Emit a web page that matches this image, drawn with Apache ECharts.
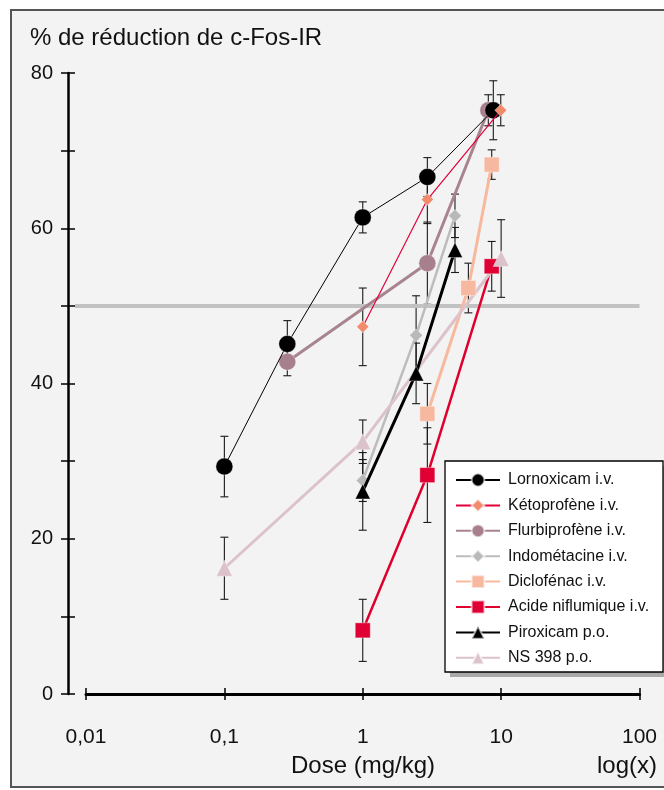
<!DOCTYPE html>
<html><head><meta charset="utf-8">
<script src="https://cdn.jsdelivr.net/npm/echarts@6/dist/echarts.min.js"></script>
<style>html,body{margin:0;padding:0;background:#fff;}#c{width:664px;height:790px;}</style>
</head><body><div id="c"></div>
<script>
// [dose mg/kg, % reduction, error]
const lornoxicam   = [[0.1,29.3,3.9],[0.285,45.1,3.0],[1,61.4,2.0],[2.93,66.6,2.5],[8.78,75.2,3.8]];
const ketoprofene  = [[1,47.3,5.0],[2.93,63.7,3.1],[9.94,75.2,2.0]];
const flurbiprofene= [[0.285,42.8,1.8],[2.93,55.5,5.3],[8.08,75.2,2.0]];
const indometacine = [[1,27.5,2.7],[2.43,46.2,5.1],[4.64,61.6,2.8]];
const diclofenac   = [[2.93,36.1,3.9],[5.8,52.3,3.2],[8.55,68.2,1.9]];
const niflumique   = [[1,8.2,4.0],[2.93,28.2,6.1],[8.55,55.1,3.2]];
const piroxicam    = [[1,26.1,5.0],[2.43,41.3,3.9],[4.64,57.2,2.9]];
const ns398        = [[0.1,16.2,4.0],[1,32.5,2.8],[10,56.1,5.0]];
const seriesNames = ['Lornoxicam i.v.','Kétoprofène i.v.','Flurbiprofène i.v.','Indométacine i.v.','Diclofénac i.v.','Acide niflumique i.v.','Piroxicam p.o.','NS 398 p.o.'];
const xTickLabels = ['0,01','0,1','1','10','100'];
const refLevel = [[0,50],[1,50]];

const FONT = 'Liberation Sans, Arial, sans-serif';
const chart = echarts.init(document.getElementById('c'), null, {renderer:'canvas'});

const styles = [
  {data:lornoxicam,   line:'#000000', lw:1,   sym:'circle',  size:17, fill:'#000000', z:3},
  {data:ketoprofene,  line:'#e4003a', lw:1.2, sym:'diamond', size:12, fill:'#f28a6c', z:4},
  {data:flurbiprofene,line:'#a8848f', lw:3,   sym:'circle',  size:17, fill:'#a8808d', z:2},
  {data:indometacine, line:'#bcbcbc', lw:2.5, sym:'diamond', size:13, fill:'#b9b9b9', z:2},
  {data:diclofenac,   line:'#f7b99e', lw:3,   sym:'rect',    size:15, fill:'#f7b8a0', z:2},
  {data:niflumique,   line:'#e0002e', lw:2.5, sym:'rect',    size:15, fill:'#e00034', z:2},
  {data:piroxicam,    line:'#000000', lw:3,   sym:'triangle',size:15, fill:'#000000', z:3},
  {data:ns398,        line:'#dcc3cb', lw:3,   sym:'triangle',size:16, fill:'#dcc3cb', z:2}
];

function errRender(params, api){
  const x = api.value(0), lo = api.value(1), hi = api.value(2);
  const a = api.coord([x, lo]), b = api.coord([x, hi]);
  const w = 4;
  const st = {stroke:'#1a1a1a', lineWidth:1.1};
  return {type:'group', children:[
    {type:'line', shape:{x1:a[0],y1:a[1],x2:b[0],y2:b[1]}, style:st},
    {type:'line', shape:{x1:a[0]-w,y1:a[1],x2:a[0]+w,y2:a[1]}, style:st},
    {type:'line', shape:{x1:b[0]-w,y1:b[1],x2:b[0]+w,y2:b[1]}, style:st}
  ]};
}

const series = [];
series.push({
  name:'ref', type:'line', data:refLevel, symbol:'none', silent:true,
  xAxisIndex:2, yAxisIndex:2,
  lineStyle:{color:'#c2c2c2', width:4}, z:1
});
styles.forEach((s,i)=>{
  series.push({
    name:seriesNames[i]+'_err', type:'custom', renderItem:errRender, z:1, silent:true,
    encode:{x:0, y:[1,2]},
    data:s.data.map(d=>[d[0], d[1]-d[2], d[1]+d[2]])
  });
});
styles.forEach((s,i)=>{
  series.push({
    name:seriesNames[i], type:'line', z:s.z,
    data:s.data.map(d=>[d[0], d[1]]),
    symbol:s.sym, symbolSize:s.size, showAllSymbol:true,
    lineStyle:{color:s.line, width:s.lw},
    itemStyle:{color:s.fill, borderColor:'rgba(255,255,255,0.6)', borderWidth:0.6},
    emphasis:{disabled:true}, animation:false
  });
});

chart.setOption({
  animation:false,
  backgroundColor:'#ffffff',
  graphic:[
    {type:'rect', z:-10, shape:{x:11,y:10,width:665,height:777}, style:{fill:'#f3f3f3', stroke:'#555555', lineWidth:2}},
    {type:'text', z:10, style:{text:'% de réduction de c-Fos-IR', x:30, y:38, font:'24px '+FONT, fill:'#111', verticalAlign:'middle'}},
    {type:'text', z:10, style:{text:'Dose (mg/kg)', x:363, y:766, font:'24px '+FONT, fill:'#111', align:'center', verticalAlign:'middle'}},
    {type:'text', z:10, style:{text:'log(x)', x:657, y:766, font:'24px '+FONT, fill:'#111', align:'right', verticalAlign:'middle'}},
    {type:'rect', z:20, shape:{x:450,y:466,width:218,height:211}, style:{fill:'#a9a9a9'}},
    {type:'rect', z:21, shape:{x:445,y:461,width:218,height:211}, style:{fill:'#ffffff', stroke:'#000', lineWidth:1.3}}
  ],
  grid:[
    {left:86, right:24.5, top:73, bottom:96, containLabel:false, outerBoundsMode:'none'},
    {left:75, right:24.5, top:73, bottom:96, containLabel:false, outerBoundsMode:'none'}
  ],
  xAxis:[{
    type:'log', logBase:10, min:0.01, max:100, offset:19, gridIndex:0,
    axisLine:{show:true, lineStyle:{color:'#000', width:3}},
    axisTick:{show:true, length:6, lineStyle:{color:'#000', width:1.5}},
    minorTick:{show:false},
    axisLabel:{margin:14, fontSize:21, color:'#111', fontFamily:FONT,
      formatter:v=>{const k=Math.round(Math.log10(v))+2; return xTickLabels[k]!==undefined?xTickLabels[k]:'';}},
    splitLine:{show:false}
  },{
    type:'log', logBase:10, min:0.01, max:100, offset:19, position:'bottom', gridIndex:0,
    axisLine:{show:false},
    axisTick:{show:true, inside:true, length:6, lineStyle:{color:'#000', width:1.5}},
    axisLabel:{show:false}, splitLine:{show:false}
  },{
    type:'value', min:0, max:1, gridIndex:1, show:false
  }],
  yAxis:[{
    type:'value', min:0, max:80, interval:10, offset:18, position:'left', gridIndex:0,
    axisLine:{show:true, lineStyle:{color:'#000', width:2.5}},
    axisTick:{show:true, length:7, lineStyle:{color:'#000', width:1.5}},
    axisLabel:{margin:15, fontSize:20, color:'#111', fontFamily:FONT, formatter:v=>(v%20===0?String(v):'')},
    splitLine:{show:false}
  },{
    type:'value', min:0, max:80, interval:10, offset:18, position:'left', gridIndex:0,
    axisLine:{show:false},
    axisTick:{show:true, inside:true, length:7, lineStyle:{color:'#000', width:1.5}},
    axisLabel:{show:false}, splitLine:{show:false}
  },{
    type:'value', min:0, max:80, gridIndex:1, show:false
  }],
  legend:{
    show:true, orient:'vertical', left:455, top:472, padding:0, z:30,
    data:seriesNames, itemWidth:44, itemHeight:16, itemGap:9.4, selectedMode:false,
    textStyle:{fontSize:16, color:'#111', fontFamily:FONT, padding:[0,0,0,3]}
  },
  series:series
});
</script></body></html>
